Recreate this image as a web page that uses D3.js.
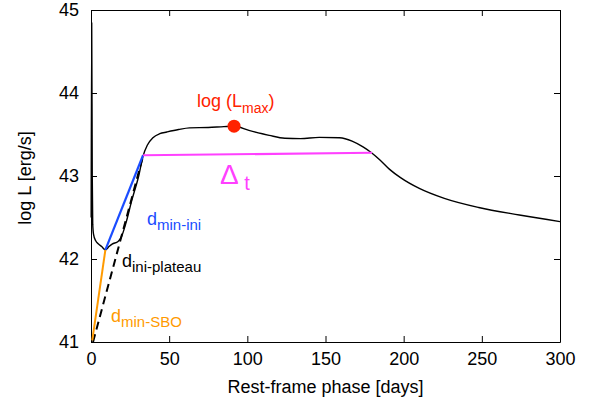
<!DOCTYPE html>
<html>
<head>
<meta charset="utf-8">
<script src="https://cdn.jsdelivr.net/npm/d3@7"></script>
<style>
  body { margin: 0; background: #fff; }
  text { font-family: "Liberation Sans", Arial, Helvetica, sans-serif; }
</style>
</head>
<body>
<div id="chart"></div>
<script>
// Light curve (rest-frame phase in days, log L in erg/s)
const phase = [0.1, 0.45, 0.8, 1.1, 1.6, 3.0, 4.8, 6.8, 9.3, 11.5, 13.5, 17.3, 19.5, 22.6, 26, 30.5, 33.3, 36, 39.6, 44, 48.5,
    56, 63, 75, 85, 91.5, 101, 114, 124, 134, 146, 159, 167, 174, 179.4, 185, 191, 198, 210, 226, 248, 274, 300];
const logL = [42.5, 44.84, 43.0, 42.42, 42.3, 42.22, 42.18, 42.15, 42.11, 42.15, 42.18, 42.21, 42.27, 42.45, 42.7, 43.0, 43.24, 43.37, 43.46, 43.51, 43.53,
    43.56, 43.58, 43.585, 43.595, 43.6, 43.55, 43.49, 43.455, 43.45, 43.465, 43.46, 43.42, 43.35, 43.28, 43.19, 43.08, 42.98, 42.85, 42.73, 42.62, 42.53, 42.45];

// Measured segments [phase, logL]
const dMinSBO = [[0.8, 41.02], [9.2, 42.11]];
const dMinIni = [[9.2, 42.11], [33.3, 43.25]];
const dIniPlateau = [[1.3, 41.0], [33.3, 43.24]];
const deltaT = [[33.3, 43.25], [179.8, 43.28]];
const lMax = [91.5, 43.6];

const xTicks = [0, 50, 100, 150, 200, 250, 300];
const yTicks = [41, 42, 43, 44, 45];

const width = 594, height = 410, margin = { top: 10, right: 34, bottom: 68, left: 91 };

const svg = d3.select("#chart")
    .append("svg")
    .attr("width", width)
    .attr("height", height);

const x = d3.scaleLinear()
    .domain([0, 300])
    .range([margin.left, width - margin.right]);

const y = d3.scaleLinear()
    .domain([41, 45])
    .range([height - margin.bottom, margin.top]);

// Axes with inward ticks on all four sides
const axisFont = "18px";

svg.append("g")
    .attr("transform", `translate(0,${height - margin.bottom})`)
    .call(d3.axisBottom(x).tickValues(xTicks).tickSizeInner(-6).tickSizeOuter(0).tickPadding(10))
    .call(g => g.selectAll("text").style("font-size", axisFont).attr("fill", "#000"));

svg.append("g")
    .attr("transform", `translate(0,${margin.top})`)
    .call(d3.axisTop(x).tickValues(xTicks).tickSizeInner(-6).tickSizeOuter(0).tickFormat(""));

svg.append("g")
    .attr("transform", `translate(${margin.left},0)`)
    .call(d3.axisLeft(y).tickValues(yTicks).tickSizeInner(-6).tickSizeOuter(0).tickPadding(12).tickFormat(d3.format("d")))
    .call(g => g.selectAll("text").style("font-size", axisFont).attr("fill", "#000"));

svg.append("g")
    .attr("transform", `translate(${width - margin.right},0)`)
    .call(d3.axisRight(y).tickValues(yTicks).tickSizeInner(-6).tickSizeOuter(0).tickFormat(""));

svg.selectAll(".domain").attr("stroke", "#000");
svg.selectAll(".tick line").attr("stroke", "#000");

// Light curve
const line = d3.line()
    .x(d => x(d[0]))
    .y(d => y(d[1]))
    .curve(d3.curveMonotoneX);

svg.append("path")
    .datum(phase.map((p, i) => [p, logL[i]]))
    .attr("d", line)
    .attr("fill", "none")
    .attr("stroke", "#000")
    .attr("stroke-width", 1.4);

const seg = d3.line().x(d => x(d[0])).y(d => y(d[1]));

svg.append("path")
    .datum(dIniPlateau)
    .attr("d", seg)
    .attr("stroke", "#000")
    .attr("stroke-width", 2)
    .attr("stroke-dasharray", "8,5");

svg.append("path")
    .datum(dMinSBO)
    .attr("d", seg)
    .attr("stroke", "#ff9a00")
    .attr("stroke-width", 2);

svg.append("path")
    .datum(dMinIni)
    .attr("d", seg)
    .attr("stroke", "#1a4cff")
    .attr("stroke-width", 2.2);

svg.append("path")
    .datum(deltaT)
    .attr("d", seg)
    .attr("stroke", "#ff40ff")
    .attr("stroke-width", 2.2);

// Peak marker
svg.append("circle")
    .attr("cx", x(lMax[0]))
    .attr("cy", y(lMax[1]))
    .attr("r", 6.5)
    .attr("fill", "#ff2200");

// Annotations with subscripts
function label(px, py, main, sub, color, size, subSize, shift, tail) {
    const t = svg.append("text")
        .attr("x", px)
        .attr("y", py)
        .attr("fill", color)
        .style("font-size", size);
    t.append("tspan").text(main);
    t.append("tspan").attr("dy", shift).style("font-size", subSize).text(sub);
    if (tail) t.append("tspan").attr("dy", -shift).text(tail);
}

label(197, 107, "log (L", "max", "#ff2200", "18px", "14px", 6, ")");
label(220, 184, "Δ", " t", "#ff40ff", "28px", "20px", 6);
label(147, 225, "d", "min-ini", "#1a4cff", "18px", "15px", 5);
label(122, 267, "d", "ini-plateau", "#000", "18px", "15px", 5);
label(111, 322, "d", "min-SBO", "#ff9a00", "18px", "15px", 5);

// Axis titles
svg.append("text")
    .attr("x", (margin.left + width - margin.right) / 2)
    .attr("y", 393)
    .attr("text-anchor", "middle")
    .style("font-size", "18px")
    .text("Rest-frame phase [days]");

svg.append("text")
    .attr("transform", "rotate(-90)")
    .attr("x", -178)
    .attr("y", 31)
    .attr("text-anchor", "middle")
    .style("font-size", "18px")
    .text("log L [erg/s]");
</script>
</body>
</html>
